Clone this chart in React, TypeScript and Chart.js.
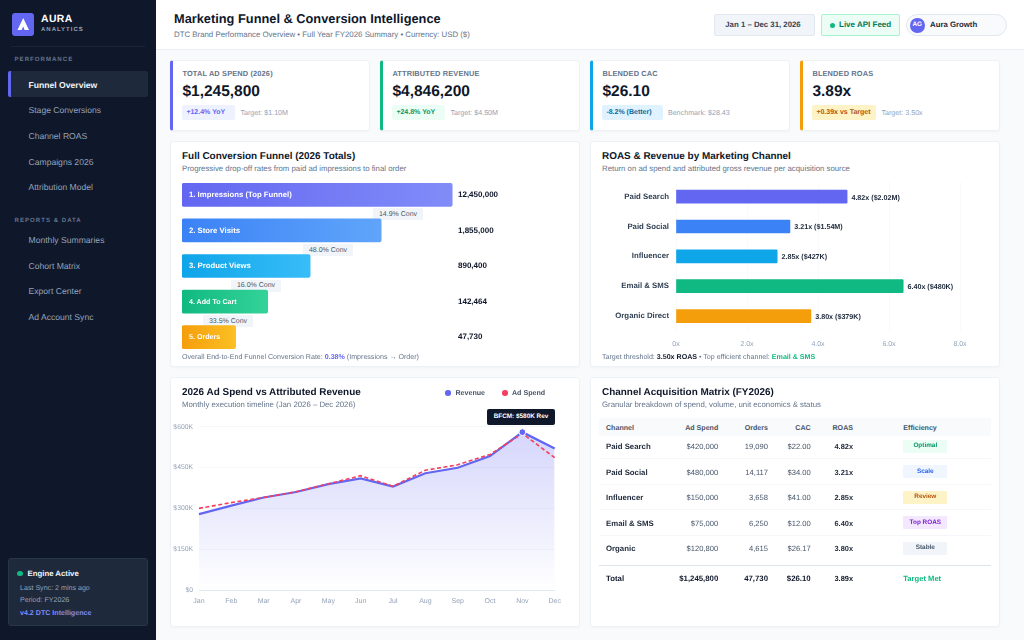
import { useEffect, useRef } from 'react'
import type { ReactNode, CSSProperties } from 'react'
import { Chart, registerables } from 'chart.js'

Chart.register(...registerables)
// unhinted glyphs, so small text keeps its real width
Chart.register({ id: 'textMode', beforeDraw(c: any) { c.ctx.textRendering = 'geometricPrecision' } })

const FONT = '"Liberation Sans", Arial, sans-serif'

const navPerformance = ['Funnel Overview', 'Stage Conversions', 'Channel ROAS', 'Campaigns 2026', 'Attribution Model']
const navReports = ['Monthly Summaries', 'Cohort Matrix', 'Export Center', 'Ad Account Sync']

const funnelStages = ['1. Impressions (Top Funnel)', '2. Store Visits', '3. Product Views', '4. Add To Cart', '5. Orders']
const funnelCounts = ['12,450,000', '1,855,000', '890,400', '142,464', '47,730']
// bar width as share of the card's inner width, the bars are not to scale with the counts
const funnelWidths = [70, 51.6, 33.2, 22.2, 13.9]
const funnelFrom = ['#6366f1', '#3b82f6', '#0ea5e9', '#10b981', '#f59e0b']
const funnelTo = ['#818cf8', '#60a5fa', '#38bdf8', '#34d399', '#fbbf24']

const roasChannels = ['Paid Search', 'Paid Social', 'Influencer', 'Email & SMS', 'Organic Direct']
const roasValues = [4.82, 3.21, 2.85, 6.4, 3.8]
const roasRevenue = ['$2.02M', '$1.54M', '$427K', '$480K', '$379K']
const roasColors = ['#6366f1', '#3b82f6', '#0ea5e9', '#10b981', '#f59e0b']

const months = ['Jan', 'Feb', 'Mar', 'Apr', 'May', 'Jun', 'Jul', 'Aug', 'Sep', 'Oct', 'Nov', 'Dec']
const revenueValues = [279000, 310000, 340000, 360000, 389000, 410000, 380000, 429000, 449000, 492000, 580000, 520000]
const spendValues = [300000, 321000, 340000, 361000, 390000, 420000, 381000, 440000, 460000, 498000, 575000, 486000]
const bfcmMarker = [null, null, null, null, null, null, null, null, null, null, 580000, null]

const tableChannels = ['Paid Search', 'Paid Social', 'Influencer', 'Email & SMS', 'Organic']
const tableSpend = ['$420,000', '$480,000', '$150,000', '$75,000', '$120,800']
const tableOrders = ['19,090', '14,117', '3,658', '6,250', '4,615']
const tableCac = ['$22.00', '$34.00', '$41.00', '$12.00', '$26.17']
const tableRoas = ['4.82x', '3.21x', '2.85x', '6.40x', '3.80x']
const tableEfficiency = ['Optimal', 'Scale', 'Review', 'Top ROAS', 'Stable']
const efficiencyBg = ['#ecfdf5', '#eff6ff', '#fef3c7', '#f3e8ff', '#f1f5f9']
const efficiencyFg = ['#059669', '#2563eb', '#b45309', '#7e22ce', '#475569']

interface TextProps {
  x: number
  y: number
  s: number
  w?: number
  c?: string
  ls?: number
  a?: 'l' | 'r' | 'c'
  children: ReactNode
}

// absolutely placed text, y is the vertical centre of the line
function T({ x, y, s, w = 400, c = '#0f172a', ls = 0, a = 'l', children }: TextProps) {
  const tx = a === 'l' ? '0' : a === 'r' ? '-100%' : '-50%'
  return (
    <div style={{
      position: 'absolute', left: x, top: y, transform: `translate(${tx}, -50%)`,
      fontSize: s, fontWeight: w, color: c, letterSpacing: ls, whiteSpace: 'nowrap', lineHeight: 1.2,
    }}>
      {children}
    </div>
  )
}

function Box({ x, y, w, h, style, children }: { x: number; y: number; w: number; h: number; style?: CSSProperties; children?: ReactNode }) {
  return <div style={{ position: 'absolute', left: x, top: y, width: w, height: h, boxSizing: 'border-box', ...style }}>{children}</div>
}

function FunnelChart() {
  const canvasRef = useRef<HTMLCanvasElement>(null)
  useEffect(() => {
    if (!canvasRef.current) return
    const chart = new Chart(canvasRef.current, {
      type: 'bar',
      data: {
        labels: funnelStages,
        datasets: [{
          data: funnelWidths,
          barThickness: 23,
          borderRadius: 2,
          borderSkipped: false,
          backgroundColor: (ctx: any) => {
            const area = ctx.chart.chartArea
            if (!area) return funnelFrom[ctx.dataIndex]
            const end = ctx.chart.scales.x.getPixelForValue(funnelWidths[ctx.dataIndex])
            const g = ctx.chart.ctx.createLinearGradient(area.left, 0, end, 0)
            g.addColorStop(0, funnelFrom[ctx.dataIndex])
            g.addColorStop(1, funnelTo[ctx.dataIndex])
            return g
          },
        }],
      },
      options: {
        indexAxis: 'y',
        responsive: false,
        animation: false,
        layout: { padding: 0 },
        scales: {
          x: { display: false, min: 0, max: 100 },
          y: { display: false },
        },
        plugins: { legend: { display: false }, tooltip: { enabled: false } },
      },
      plugins: [{
        id: 'funnelText',
        afterDatasetsDraw(c: any) {
          const g = c.ctx
          const bars = c.getDatasetMeta(0).data
          g.save()
          g.textBaseline = 'middle'
          bars.forEach((bar: any, i: number) => {
            g.font = `700 ${i === 3 || i === 4 ? 7.1 : 7.75}px ${FONT}`
            g.fillStyle = '#ffffff'
            g.fillText(funnelStages[i], c.chartArea.left + 7, bar.y)
            g.font = `700 8px ${FONT}`
            g.fillStyle = '#0f172a'
            g.fillText(funnelCounts[i], c.chartArea.left + 276, bar.y)
          })
          g.restore()
        },
      }],
    } as any)
    return () => { chart.destroy() }
  }, [])
  return <canvas ref={canvasRef} width={386} height={178} style={{ position: 'absolute', left: 182, top: 177 }} />
}

function RoasChart() {
  const canvasRef = useRef<HTMLCanvasElement>(null)
  useEffect(() => {
    if (!canvasRef.current) return
    const chart = new Chart(canvasRef.current, {
      type: 'bar',
      data: {
        labels: roasChannels,
        datasets: [{ data: roasValues, backgroundColor: roasColors, barThickness: 13, borderRadius: 1 }],
      },
      options: {
        indexAxis: 'y',
        responsive: false,
        animation: false,
        layout: { padding: { top: 0, right: 32 } },
        scales: {
          x: {
            min: 0,
            max: 8,
            afterFit: (s: any) => { s.height = 24 },
            grid: { color: '#f8fafc', drawTicks: false },
            border: { display: false },
            ticks: {
              stepSize: 2,
              padding: 9,
              color: '#94a3b8',
              font: { family: FONT, size: 7 },
              callback: (v: any) => (v === 0 ? '0x' : `${Number(v).toFixed(1)}x`),
            },
          },
          y: {
            afterFit: (s: any) => { s.width = 84 },
            grid: { display: false, drawTicks: false },
            border: { display: false },
            ticks: { padding: 7, color: '#334155', font: { family: FONT, size: 7.8, weight: 700 } },
          },
        },
        plugins: { legend: { display: false }, tooltip: { enabled: false } },
      },
      plugins: [{
        id: 'roasText',
        afterDatasetsDraw(c: any) {
          const g = c.ctx
          g.save()
          g.textBaseline = 'middle'
          g.font = `700 7.15px ${FONT}`
          g.fillStyle = '#1e293b'
          c.getDatasetMeta(0).data.forEach((bar: any, i: number) => {
            g.fillText(`${roasValues[i].toFixed(2)}x (${roasRevenue[i]})`, bar.x + 4.3, bar.y + 1)
          })
          g.restore()
        },
      }],
    } as any)
    return () => { chart.destroy() }
  }, [])
  return <canvas ref={canvasRef} width={400} height={185} style={{ position: 'absolute', left: 592, top: 170 }} />
}

function TimelineChart() {
  const canvasRef = useRef<HTMLCanvasElement>(null)
  useEffect(() => {
    if (!canvasRef.current) return
    const chart = new Chart(canvasRef.current, {
      type: 'line',
      data: {
        labels: months,
        datasets: [
          {
            label: 'BFCM',
            data: bfcmMarker,
            showLine: false,
            pointRadius: 3.4,
            pointBackgroundColor: '#6366f1',
            pointBorderColor: '#ffffff',
            pointBorderWidth: 1,
          },
          {
            label: 'Ad Spend',
            data: spendValues,
            borderColor: '#f43f5e',
            borderWidth: 1.6,
            borderDash: [4, 2.5],
            pointRadius: 0,
            tension: 0,
          },
          {
            label: 'Revenue',
            data: revenueValues,
            borderColor: '#6366f1',
            borderWidth: 2.2,
            pointRadius: 0,
            tension: 0,
            fill: 'origin',
            backgroundColor: (ctx: any) => {
              const area = ctx.chart.chartArea
              if (!area) return 'rgba(99,102,241,0.2)'
              const g = ctx.chart.ctx.createLinearGradient(0, area.top, 0, area.bottom)
              g.addColorStop(0, 'rgba(99,102,241,0.28)')
              g.addColorStop(1, 'rgba(99,102,241,0)')
              return g
            },
          },
        ],
      },
      options: {
        responsive: false,
        animation: false,
        layout: { padding: { top: 11.7, right: 17.3 } },
        scales: {
          x: {
            afterFit: (s: any) => { s.height = 25 },
            grid: { display: false, drawTicks: false },
            border: { display: true, color: '#e2e8f0', width: 1 },
            ticks: { padding: 7, maxRotation: 0, autoSkip: false, color: '#94a3b8', font: { family: FONT, size: 7 } },
          },
          y: {
            min: 0,
            max: 600000,
            afterFit: (s: any) => { s.width = 27 },
            grid: { color: '#f5f7fa', drawTicks: false },
            border: { display: false },
            ticks: {
              stepSize: 150000,
              padding: 6,
              color: '#94a3b8',
              font: { family: FONT, size: 6.8 },
              callback: (v: any) => `$${Number(v) / 1000}${Number(v) === 0 ? '' : 'K'}`,
            },
          },
        },
        plugins: { legend: { display: false }, tooltip: { enabled: false } },
      },
    } as any)
    return () => { chart.destroy() }
  }, [])
  return <canvas ref={canvasRef} width={400} height={200} style={{ position: 'absolute', left: 172, top: 415 }} />
}

const cardStyle: CSSProperties = {
  background: '#ffffff', border: '1px solid #eef2f7', borderRadius: 3, boxShadow: '0 1px 2px rgba(15,23,42,0.03)',
}

function Kpi({ x, accent, label, value, badge, badgeW, badgeBg, badgeFg, note }: {
  x: number; accent: string; label: string; value: string; badge: string; badgeW: number; badgeBg: string; badgeFg: string; note: string
}) {
  return (
    <>
      <Box x={x} y={60} w={200} h={70.5} style={{ ...cardStyle, borderLeft: `3px solid ${accent}` }} />
      <T x={x + 12} y={73.5} s={7.4} w={700} c="#64748b" ls={0.15}>{label}</T>
      <T x={x + 12} y={91.5} s={15.5} w={700}>{value}</T>
      <Box x={x + 12} y={105} w={badgeW} h={14.5} style={{ background: badgeBg, borderRadius: 2 }} />
      <T x={x + 16} y={112.5} s={7} w={700} c={badgeFg}>{badge}</T>
      <T x={x + 12 + badgeW + 5} y={112.5} s={7.15} c="#94a3b8">{note}</T>
    </>
  )
}

function Sidebar() {
  return (
    <>
      <Box x={0} y={0} w={156} h={640} style={{ background: '#0f172a' }} />
      <Box x={11.5} y={13} w={22.5} h={22.5} style={{ background: '#6366f1', borderRadius: 3 }}>
        <svg width="22.5" height="22.5" viewBox="0 0 22.5 22.5">
          <path d="M11.2 5 L17 17 L12.6 17 L11.2 13.4 L9.6 17 L5.5 17 Z" fill="#ffffff" />
        </svg>
      </Box>
      <T x={41} y={20} s={10.4} w={700} c="#ffffff" ls={0.4}>AURA</T>
      <T x={41} y={30.5} s={6} w={700} c="#94a3b8" ls={1}>ANALYTICS</T>
      <Box x={11} y={46} w={134} h={1} style={{ background: '#1a2438' }} />
      <T x={14.5} y={60} s={6.1} w={700} c="#64748b" ls={1}>PERFORMANCE</T>
      <Box x={8} y={71} w={140} h={25.6} style={{ background: '#1e293b', borderRadius: 2, borderLeft: '3px solid #6366f1' }} />
      {navPerformance.map((n, i) => (
        <T key={n} x={28.5} y={84.7 + i * 25.6} s={8.6} w={i === 0 ? 700 : 400} c={i === 0 ? '#f1f5f9' : '#94a3b8'}>{n}</T>
      ))}
      <T x={14.5} y={221} s={6.1} w={700} c="#64748b" ls={1}>REPORTS &amp; DATA</T>
      {navReports.map((n, i) => (
        <T key={n} x={28.5} y={240 + i * 25.6} s={8.6} c="#94a3b8">{n}</T>
      ))}
      <Box x={8} y={558} w={140} h={68} style={{ background: '#1e293b', border: '1px solid #293548', borderRadius: 3 }} />
      <Box x={17} y={570.5} w={5.5} h={5.5} style={{ background: '#10b981', borderRadius: '50%' }} />
      <T x={27.5} y={573.5} s={7.8} w={700} c="#f1f5f9">Engine Active</T>
      <T x={20} y={588} s={7.1} c="#94a3b8">Last Sync: 2 mins ago</T>
      <T x={20} y={599.5} s={7.1} c="#94a3b8">Period: FY2026</T>
      <T x={20} y={613} s={7.1} w={700} c="#818cf8">v4.2 DTC Intelligence</T>
    </>
  )
}

function Header() {
  return (
    <>
      <Box x={156} y={0} w={868} h={50} style={{ background: '#ffffff', borderBottom: '1px solid #e9eef4' }} />
      <T x={174} y={18.5} s={12.8} w={700}>Marketing Funnel &amp; Conversion Intelligence</T>
      <T x={174} y={34.5} s={7.85} c="#64748b">DTC Brand Performance Overview • Full Year FY2026 Summary • Currency: USD ($)</T>
      <Box x={714} y={14} w={101} h={22} style={{ background: '#f1f5f9', border: '1px solid #e2e8f0', borderRadius: 2 }} />
      <T x={763} y={25} s={7.8} w={700} c="#334155" a="c">Jan 1 – Dec 31, 2026</T>
      <Box x={821} y={14} w={79} h={22} style={{ background: '#ecfdf5', border: '1px solid #a7f3d0', borderRadius: 2 }} />
      <Box x={829.5} y={22.5} w={5} h={5} style={{ background: '#10b981', borderRadius: '50%' }} />
      <T x={839} y={25} s={8} w={700} c="#047857">Live API Feed</T>
      <Box x={906} y={14} w={101} h={22} style={{ background: '#f8fafc', border: '1px solid #e2e8f0', borderRadius: 11 }} />
      <Box x={910} y={18} w={14.5} h={14.5} style={{ background: '#6366f1', borderRadius: '50%' }} />
      <T x={917.2} y={25.2} s={6.4} w={700} c="#ffffff" a="c">AG</T>
      <T x={930} y={25} s={7.8} w={700} c="#1e293b">Aura Growth</T>
    </>
  )
}

function FunnelCard() {
  const pills = [
    { x: 373, y: 208, t: '14.9% Conv' },
    { x: 303, y: 244, t: '48.0% Conv' },
    { x: 231, y: 279.5, t: '16.0% Conv' },
    { x: 203, y: 315, t: '33.5% Conv' },
  ]
  return (
    <>
      <Box x={170.4} y={141} w={409.2} h={226} style={cardStyle} />
      <T x={182} y={156.5} s={9.95} w={700}>Full Conversion Funnel (2026 Totals)</T>
      <T x={182} y={168.5} s={7.8} c="#64748b">Progressive drop-off rates from paid ad impressions to final order</T>
      {pills.map(p => (
        <div key={p.t}>
          <Box x={p.x} y={p.y} w={50} h={12} style={{ background: '#f1f5f9', borderRadius: 1 }} />
          <T x={p.x + 25} y={p.y + 6.5} s={7} w={400} c="#475569" a="c">{p.t}</T>
        </div>
      ))}
      <FunnelChart />
      <T x={182} y={356.5} s={7.1} c="#64748b">
        Overall End-to-End Funnel Conversion Rate: <span style={{ color: '#6366f1', fontWeight: 700 }}>0.38%</span> (Impressions → Order)
      </T>
    </>
  )
}

function RoasCard() {
  return (
    <>
      <Box x={590.4} y={141} w={409.2} h={226} style={cardStyle} />
      <T x={602} y={156.5} s={9.95} w={700}>ROAS &amp; Revenue by Marketing Channel</T>
      <T x={602} y={168.5} s={7.8} c="#64748b">Return on ad spend and attributed gross revenue per acquisition source</T>
      <RoasChart />
      <T x={602} y={356.5} s={7.1} c="#64748b">
        Target threshold: <span style={{ color: '#0f172a', fontWeight: 700 }}>3.50x ROAS</span> • Top efficient channel:{' '}
        <span style={{ color: '#10b981', fontWeight: 700 }}>Email &amp; SMS</span>
      </T>
    </>
  )
}

function TimelineCard() {
  return (
    <>
      <Box x={170.4} y={377} w={409.2} h={250} style={cardStyle} />
      <T x={182} y={392.5} s={9.95} w={700}>2026 Ad Spend vs Attributed Revenue</T>
      <T x={182} y={404.5} s={7.8} c="#64748b">Monthly execution timeline (Jan 2026 – Dec 2026)</T>
      <Box x={445} y={390} w={5.5} h={5.5} style={{ background: '#6366f1', borderRadius: '50%' }} />
      <T x={455.5} y={393} s={7.1} w={700} c="#475569">Revenue</T>
      <Box x={502} y={390} w={5.5} h={5.5} style={{ background: '#f43f5e', borderRadius: '50%' }} />
      <T x={512} y={393} s={7.1} w={700} c="#475569">Ad Spend</T>
      <TimelineChart />
      <Box x={487} y={408.5} w={68} h={16} style={{ background: '#0f172a', borderRadius: 2 }} />
      <T x={521} y={416.5} s={6.4} w={700} c="#ffffff" a="c">BFCM: $580K Rev</T>
    </>
  )
}

function MatrixCard() {
  return (
    <>
      <Box x={590.4} y={377} w={409.2} h={250} style={cardStyle} />
      <T x={602} y={392.5} s={9.95} w={700}>Channel Acquisition Matrix (FY2026)</T>
      <T x={602} y={404.5} s={7.8} c="#64748b">Granular breakdown of spend, volume, unit economics &amp; status</T>
      <Box x={599} y={418} w={392} h={18} style={{ background: '#f8fafc', borderRadius: 2 }} />
      <T x={606} y={427.5} s={7.1} w={700} c="#475569">Channel</T>
      <T x={718.3} y={427.5} s={7.1} w={700} c="#475569" a="r">Ad Spend</T>
      <T x={768} y={427.5} s={7.1} w={700} c="#475569" a="r">Orders</T>
      <T x={810.7} y={427.5} s={7.1} w={700} c="#475569" a="r">CAC</T>
      <T x={853} y={427.5} s={7.1} w={700} c="#475569" a="r">ROAS</T>
      <T x={903.3} y={427.5} s={7.1} w={700} c="#475569">Efficiency</T>
      {tableChannels.map((ch, i) => {
        const y = 447 + i * 25.6
        return (
          <div key={ch}>
            {i < 4 && <Box x={599} y={y + 11} w={392} h={1} style={{ background: '#f5f7fa' }} />}
            <T x={606} y={y} s={7.8} w={700} c="#1e293b">{ch}</T>
            <T x={718.3} y={y} s={7.6} c="#475569" a="r">{tableSpend[i]}</T>
            <T x={768} y={y} s={7.6} c="#475569" a="r">{tableOrders[i]}</T>
            <T x={810.7} y={y} s={7.6} c="#475569" a="r">{tableCac[i]}</T>
            <T x={853} y={y} s={7.4} w={700} c="#1e293b" a="r">{tableRoas[i]}</T>
            <Box x={903.3} y={y - 7.5} w={44} h={13} style={{ background: efficiencyBg[i], borderRadius: 1 }} />
            <T x={925.3} y={y - 1} s={6.4} w={700} c={efficiencyFg[i]} a="c">{tableEfficiency[i]}</T>
          </div>
        )
      })}
      <Box x={599} y={565} w={392} h={1.3} style={{ background: '#dfe5ee' }} />
      <T x={606} y={579} s={7.8} w={700} c="#0f172a">Total</T>
      <T x={718.3} y={579} s={7.8} w={700} c="#0f172a" a="r">$1,245,800</T>
      <T x={768} y={579} s={7.8} w={700} c="#0f172a" a="r">47,730</T>
      <T x={810.7} y={579} s={7.8} w={700} c="#0f172a" a="r">$26.10</T>
      <T x={853} y={579} s={7.4} w={700} c="#0f172a" a="r">3.89x</T>
      <T x={903.3} y={579} s={7.6} w={700} c="#10b981">Target Met</T>
    </>
  )
}

export default function App() {
  return (
    <div style={{ position: 'fixed', left: 0, top: 0, width: 1024, height: 640, overflow: 'hidden', background: '#f8fafc', fontFamily: FONT, textRendering: 'geometricPrecision' }}>
      <Sidebar />
      <Header />
      <Kpi x={170.4} accent="#6366f1" label="TOTAL AD SPEND (2026)" value="$1,245,800" badge="+12.4% YoY" badgeW={53} badgeBg="#eef2ff" badgeFg="#6366f1" note="Target: $1.10M" />
      <Kpi x={380.4} accent="#10b981" label="ATTRIBUTED REVENUE" value="$4,846,200" badge="+24.8% YoY" badgeW={53} badgeBg="#ecfdf5" badgeFg="#059669" note="Target: $4.50M" />
      <Kpi x={590.4} accent="#0ea5e9" label="BLENDED CAC" value="$26.10" badge="-8.2% (Better)" badgeW={60.5} badgeBg="#e0f2fe" badgeFg="#0369a1" note="Benchmark: $28.43" />
      <Kpi x={800.4} accent="#f59e0b" label="BLENDED ROAS" value="3.89x" badge="+0.39x vs Target" badgeW={64} badgeBg="#fef3c7" badgeFg="#b45309" note="Target: 3.50x" />
      <FunnelCard />
      <RoasCard />
      <TimelineCard />
      <MatrixCard />
    </div>
  )
}
